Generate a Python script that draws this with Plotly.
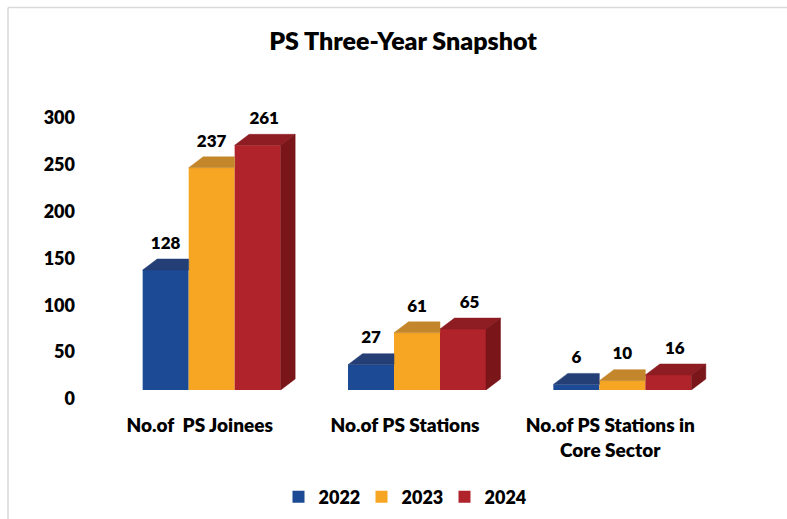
import plotly.graph_objects as go

# ---------------- data ----------------
categories = ["No.of  PS Joinees", "No.of PS Stations", "No.of PS Stations in<br>Core Sector"]
years = ["2022", "2023", "2024"]
v2022 = [128, 27, 6]
v2023 = [237, 61, 10]
v2024 = [261, 65, 16]
y_tick_vals = [0, 50, 100, 150, 200, 250, 300]

# ---------------- style ----------------
series = [v2022, v2023, v2024]
front_colors = ["#1C4A94", "#F6A623", "#B0232A"]
top_colors = ["#243E76", "#C4862B", "#8D1D22"]
side_colors = ["#1A3566", "#A86F20", "#7A1519"]
FONT = "Lato"
WEIGHT = 800
bargap = 0.328
depth_x = 0.0706      # oblique depth, x units
depth_y = 11.7        # oblique depth, y units
label_gap = 15.5      # y units above the back edge of the top face
label_dx = [0.0, 0.0, 0.45]  # fraction of depth_x

n = len(series)
w = (1 - bargap) / n
xc = list(range(len(categories)))

fig = go.Figure()

# front faces: real bars
for i, (yr, vals) in enumerate(zip(years, series)):
    fig.add_trace(go.Bar(
        x=xc, y=vals, name=yr, width=w, offset=-(1 - bargap) / 2 + i * w,
        marker=dict(color=front_colors[i], line=dict(width=0)),
        hoverinfo="y+name",
    ))

# top faces and right side faces derived from the same values
for i, vals in enumerate(series):
    tx, ty, sx, sy = [], [], [], []
    for c, v in zip(xc, vals):
        xl = c - (1 - bargap) / 2 + i * w
        xr = xl + w
        last = (i == n - 1)
        if last:
            tx += [xl, xr, xr + depth_x, xl + depth_x, xl, None]
            ty += [v, v, v + depth_y, v + depth_y, v, None]
            sx += [xr, xr + depth_x, xr + depth_x, xr, xr, None]
            sy += [0, depth_y, v + depth_y, v, 0, None]
        else:
            tx += [xl, xr, xr, xl + depth_x, xl, None]
            ty += [v, v, v + depth_y, v + depth_y, v, None]
    fig.add_trace(go.Scatter(
        x=tx, y=ty, mode="lines", fill="toself", fillcolor=top_colors[i],
        line=dict(color=top_colors[i], width=0.5), showlegend=False, hoverinfo="skip"))
    if sx:
        fig.add_trace(go.Scatter(
            x=sx, y=sy, mode="lines", fill="toself", fillcolor=side_colors[i],
            line=dict(color=side_colors[i], width=0.5), showlegend=False, hoverinfo="skip"))

# value labels
for i, vals in enumerate(series):
    xs = [c - (1 - bargap) / 2 + (i + 0.5) * w + label_dx[i] * depth_x for c in xc]
    ys = [v + depth_y + label_gap for v in vals]
    fig.add_trace(go.Scatter(
        x=xs, y=ys, mode="text", text=[str(v) for v in vals],
        textposition="middle center",
        textfont=dict(family=FONT, size=17, color="#000000", weight=WEIGHT),
        showlegend=False, hoverinfo="skip"))

W, H = 787, 519
ml, mr, mt, mb = 109, 62, 95, 129
plot_w = W - ml - mr
plot_h = H - mt - mb
ymax = plot_h / 0.9375

fig.update_layout(
    width=W, height=H,
    margin=dict(l=ml, r=mr, t=mt, b=mb, autoexpand=False),
    paper_bgcolor="#FFFFFF", plot_bgcolor="#FFFFFF",
    barmode="overlay",
    title=dict(text="PS Three-Year Snapshot", x=403 / W, xanchor="center",
               xref="container", yref="container", y=1 - 41 / H, yanchor="middle",
               font=dict(family=FONT, size=25, color="#000000", weight=WEIGHT)),
    xaxis=dict(range=[-0.5, 2.5], tickvals=xc, ticktext=categories,
               showgrid=False, zeroline=False, showline=False, ticks="",
               ticklabelshift=-12, ticklabelstandoff=22,
               tickfont=dict(family=FONT, size=19, color="#000000", weight=WEIGHT),
               fixedrange=True),
    yaxis=dict(range=[0, ymax], tickvals=y_tick_vals,
               showgrid=False, zeroline=False, showline=False, ticks="",
               ticklabelshift=9, ticklabelstandoff=33,
               tickfont=dict(family=FONT, size=18, color="#000000", weight=WEIGHT),
               fixedrange=True),
    legend=dict(orientation="h", xref="container", yref="container",
                x=403 / W, xanchor="center", y=1 - 497 / H, yanchor="middle",
                font=dict(family=FONT, size=18, color="#000000", weight=WEIGHT),
                itemwidth=30, entrywidth=38, bgcolor="rgba(0,0,0,0)"),
    showlegend=True,
    shapes=[
        dict(type="line", xref="paper", yref="paper",
             x0=-(ml - 8) / plot_w, x1=1 + mr / plot_w,
             y0=1 + (mt - 7.5) / plot_h, y1=1 + (mt - 7.5) / plot_h,
             line=dict(color="#D9D9D9", width=1.5)),
        dict(type="line", xref="paper", yref="paper",
             x0=-(ml - 8) / plot_w, x1=-(ml - 8) / plot_w,
             y0=1 + (mt - 7.5) / plot_h, y1=-mb / plot_h,
             line=dict(color="#D9D9D9", width=1.5)),
    ],
)

fig.write_html("out.html", config={"displayModeBar": False},
               post_script="document.body.style.margin='0';document.body.style.overflow='hidden';")
